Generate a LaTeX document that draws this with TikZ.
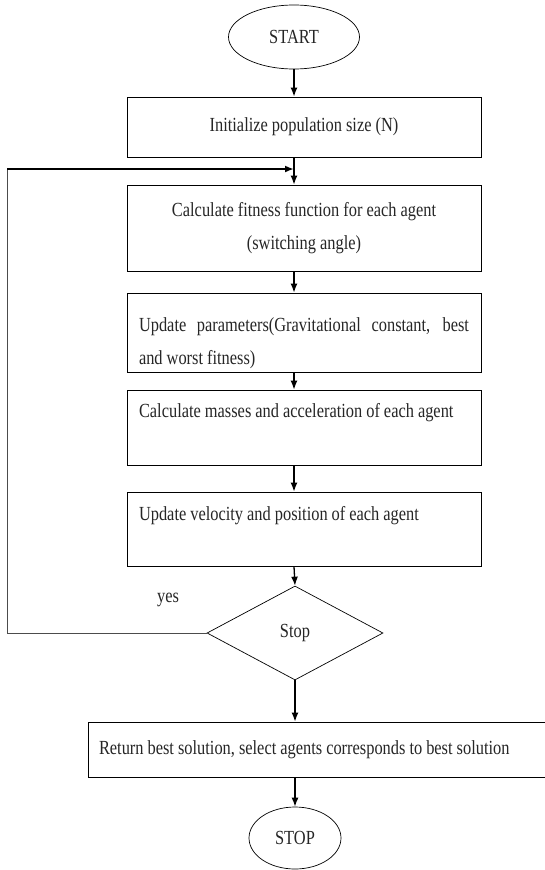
\documentclass[tikz,border=0pt]{standalone}
\usepackage{fontspec}
\setmainfont[FakeStretch=0.82]{Liberation Serif}
\usetikzlibrary{shapes.geometric,arrows.meta}
\newcommand{\tightsp}{\spaceskip=0.2em\relax\xspaceskip=0.25em\relax}
\newcommand{\tightjust}{\spaceskip=0.2em plus 1em\relax\xspaceskip=0.25em plus 1em\relax}
\begin{document}
\begin{tikzpicture}[x=1pt,y=-1pt,
  txt/.style={font=\fontsize{20}{33}\selectfont, text=black!85},
  box/.style={draw, line width=0.9pt, minimum width=354pt, text width=330pt, inner xsep=12pt, inner ysep=0pt, txt},
  term/.style={draw, ellipse, line width=0.7pt, inner sep=0pt, txt},
  arr/.style={line width=1.3pt, -{Latex[length=9pt,width=7pt]}},
]
\clip (0,0) rectangle (545,870);
\fill[white] (0,0) rectangle (545,870);
\node[term, minimum width=131pt, minimum height=64pt] (start) at (294,37) {START};
\node[box, minimum height=60pt, align=center] (init) at (304,127) {\tightsp Initialize population size (N)};
\node[box, minimum height=86pt, align=center] (fit) at (304,228) {\tightsp Calculate fitness function for each agent\\(switching angle)};
\node[box, minimum height=79pt, align=justify] (upd) at (304,332.5) {\tightjust\strut\\[-21pt]Update parameters(Gravitational constant, best\linebreak and worst fitness)};
\node[box, minimum height=75pt, align=left] (mass) at (304,427.5) {\tightsp Calculate masses and acceleration of each agent\\[-8pt]\strut};
\node[box, minimum height=74pt, align=left] (vel) at (304,529) {\tightsp Update velocity and position of each agent\\[-11pt]\strut};
\node[draw, diamond, line width=0.7pt, minimum width=176pt, minimum height=94pt, inner sep=0pt, txt] (dec) at (295,633) {Stop};
\node[txt] (yes) at (168,600) {yes};
\node[box, minimum width=472pt, text width=450pt, inner xsep=11pt, minimum height=55pt, align=left] (ret) at (324,749.5) {\tightsp Return best solution, select agents corresponds to best solution};
\node[term, minimum width=92pt, minimum height=62pt] (stop) at (295,838) {STOP};
\coordinate (lt) at (7,169);
\coordinate (join) at (294,169);
\draw[arr] (start.south) -- (start.south |- init.north);
\draw[arr] (start.south |- init.south) -- (start.south |- fit.north);
\draw[arr] (start.south |- fit.south) -- (start.south |- upd.north);
\draw[arr] (start.south |- upd.south) -- (start.south |- mass.north);
\draw[arr] (start.south |- mass.south) -- (start.south |- vel.north);
\draw[arr] (start.south |- vel.south) -- (dec.north);
\draw[arr] (dec.south) -- (dec.south |- ret.north);
\draw[arr] (dec.south |- ret.south) -- (stop.north);
\draw[line width=0.8pt, black!70] (dec.west) -| (lt);
\draw[arr, line width=1.8pt] (lt) -- (join);
\end{tikzpicture}
\end{document}
